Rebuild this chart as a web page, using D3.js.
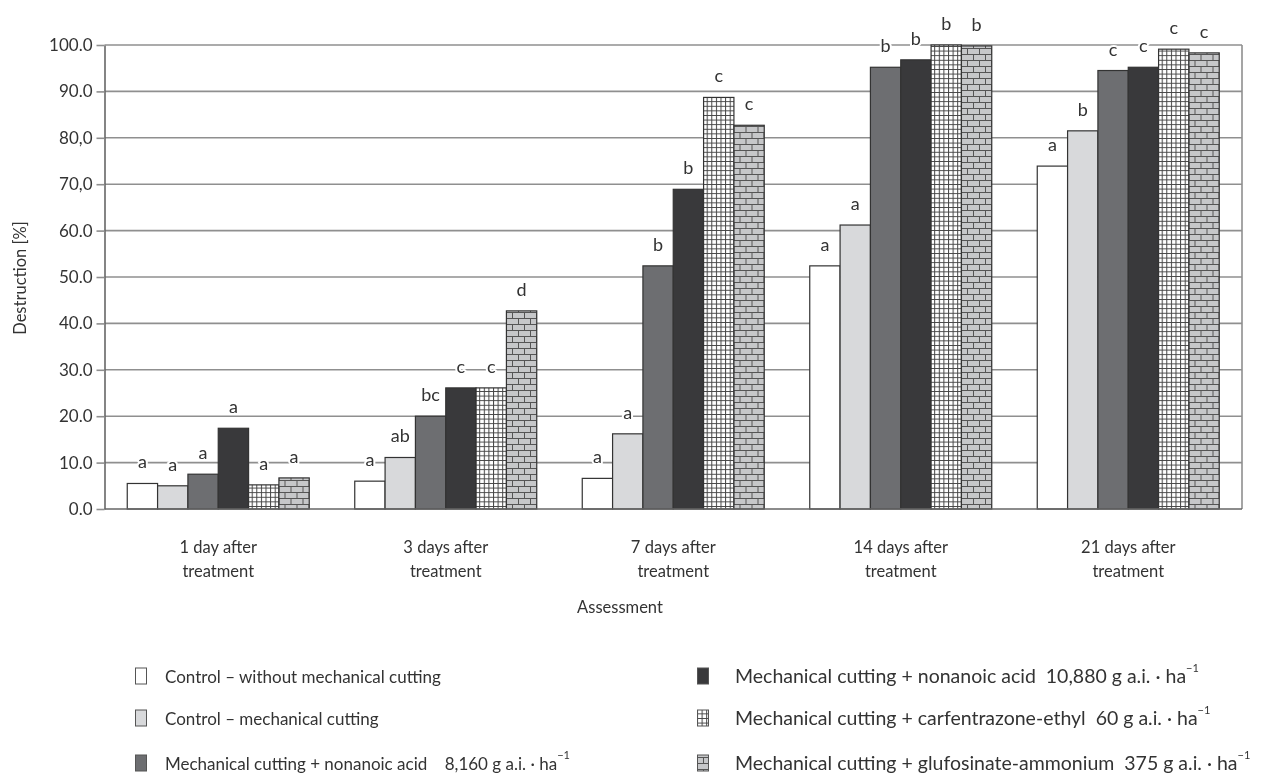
<!DOCTYPE html>
<html>
<head lang="en">
    <meta charset="UTF-8">
    <title>Destruction</title>
    <script src="https://cdn.jsdelivr.net/npm/d3@7/dist/d3.min.js"></script>
    <style>
        *{ margin:0; padding:0; }
        body{ background:#fff; }
        text{ font-family:Lato,"Open Sans",sans-serif; fill:#333; }
    </style>
</head>
<body>
<div id="mychart" style="width:1273px;height:784px;position:fixed;left:0;top:0"></div>
<script>
    // categories (assessment dates)
    var categories=[["1 day after","treatment"],["3 days after","treatment"],["7 days after","treatment"],["14 days after","treatment"],["21 days after","treatment"]];
    // treatments
    var series=["ctrl","cut","nona8","nona10","carf","gluf"];
    var legendLabels=["Control \u2013 without mechanical cutting","Control \u2013 mechanical cutting",
        "Mechanical cutting + nonanoic acid \u00a0\u00a0 8,160 g a.i. \u00b7 ha",
        "Mechanical cutting + nonanoic acid \u00a010,880 g a.i. \u00b7 ha",
        "Mechanical cutting + carfentrazone-ethyl \u00a060 g a.i. \u00b7 ha",
        "Mechanical cutting + glufosinate-ammonium \u00a0375 g a.i. \u00b7 ha"];
    var legendSup=["","","\u22121","\u22121","\u22121","\u22121"];
    // values per series, one per category
    var ctrl  =[5.5, 6.0, 6.6, 52.4, 73.9];
    var cut   =[5.0, 11.1, 16.2, 61.2, 81.5];
    var nona8 =[7.5, 20.0, 52.4, 95.2, 94.5];
    var nona10=[17.4, 26.1, 68.9, 96.8, 95.2];
    var carf  =[5.2, 26.1, 88.7, 100.0, 99.1];
    var gluf  =[6.7, 42.7, 82.7, 99.8, 98.3];
    // significance letters
    var letters=[["a","a","a","a","a","a"],["a","ab","bc","c","c","d"],["a","a","b","b","c","c"],["a","a","b","b","b","b"],["a","b","c","c","c","c"]];
    var yTicks=[0,10,20,30,40,50,60,70,80,90,100];
    var yTickLabels=["0.0","10.0","20.0","30.0","40.0","50.0","60.0","70,0","80,0","90.0","100.0"];

    var values=[ctrl,cut,nona8,nona10,carf,gluf];
    var fills=["#ffffff","#d8d9db","#6d6e71","#39393b","url(#grid)","url(#brick)"];

    drawBars("mychart");

    function drawBars(divname){
        var _left=104.5,_right=1242,_top=45,_bottom=509;
        var _fs="16.5px";
        var _svg=d3.select("#"+divname).append("svg")
                .attr("width",1273).attr("height",784);
        var defs=_svg.append("defs");
        //网格图案
        var pg=defs.append("pattern").attr("id","grid").attr("patternUnits","userSpaceOnUse")
                .attr("width",4.6).attr("height",4.6);
        pg.append("rect").attr("width",4.6).attr("height",4.6).attr("fill","#fff");
        pg.append("path").attr("d","M0,0.5H4.6M0.5,0V4.6").attr("stroke","#444").attr("stroke-width",1);
        //砖块图案
        var pb=defs.append("pattern").attr("id","brick").attr("patternUnits","userSpaceOnUse")
                .attr("width",12).attr("height",12);
        pb.append("rect").attr("width",12).attr("height",12).attr("fill","#c6c7c9");
        pb.append("path").attr("d","M0,0.5H12M0,6.5H12M0.5,0V6M6.5,6V12")
                .attr("stroke","#555").attr("stroke-width",1);

        var _yscale=d3.scaleLinear().domain([0,100]).range([_bottom,_top]);
        var _x0=d3.scaleBand().domain(d3.range(categories.length)).range([_left,_right]);
        var _x1=d3.scaleBand().domain(series).range([0,_x0.bandwidth()]).paddingOuter(0.75);

        //网格线
        _svg.append("g").selectAll("line").data(yTicks.slice(1)).enter().append("line")
                .attr("x1",_left).attr("x2",_right)
                .attr("y1",function(d){return _yscale(d);}).attr("y2",function(d){return _yscale(d);})
                .attr("stroke","#8f8f8f").attr("stroke-width",1.6);
        _svg.append("line").attr("x1",_right).attr("x2",_right).attr("y1",_top).attr("y2",_bottom)
                .attr("stroke","#8f8f8f").attr("stroke-width",1.6);

        //柱子
        var groups=_svg.append("g").selectAll("g").data(categories).enter().append("g")
                .attr("transform",function(d,i){return "translate("+_x0(i)+",0)";});
        function rows(d,i){
            return series.map(function(s,j){return {s:s,j:j,v:values[j][i],l:letters[i][j]};});
        }
        groups.selectAll("rect").data(rows).enter().append("rect")
                .attr("x",function(d){return _x1(d.s);})
                .attr("y",function(d){return _yscale(d.v);})
                .attr("width",_x1.bandwidth())
                .attr("height",function(d){return _bottom-_yscale(d.v);})
                .attr("fill",function(d){return fills[d.j];})
                .attr("stroke","#333").attr("stroke-width",1.2);
        groups.selectAll("text").data(rows).enter().append("text")
                .attr("x",function(d){return _x1(d.s)+_x1.bandwidth()/2;})
                .attr("y",function(d){return _yscale(d.v)-15;})
                .attr("text-anchor","middle")
                .style("font-size","18px")
                .style("paint-order","stroke").attr("stroke","#fff").attr("stroke-width",4)
                .text(function(d){return d.l;});

        //y轴
        var _yaxis=d3.axisLeft(_yscale).tickValues(yTicks).tickSize(8).tickSizeOuter(0).tickPadding(4)
                .tickFormat(function(d,i){return yTickLabels[i];});
        var gy=_svg.append("g").attr("transform","translate("+_left+",0)").call(_yaxis);
        gy.select(".domain").attr("stroke","#666").attr("stroke-width",1.6);
        gy.selectAll(".tick line").attr("stroke","#8f8f8f").attr("stroke-width",1.6);
        gy.selectAll("text").style("font-size","17px").style("font-family","Lato").attr("fill","#333");
        _svg.append("line").attr("x1",_left).attr("x2",_right).attr("y1",_bottom).attr("y2",_bottom)
                .attr("stroke","#666").attr("stroke-width",1.6);

        //x轴文字
        var xl=_svg.append("g").selectAll("text").data(categories).enter().append("text")
                .attr("text-anchor","middle").style("font-size",_fs)
                .attr("transform",function(d,i){return "translate("+(_x0(i)+_x0.bandwidth()/2)+",553)";});
        xl.append("tspan").attr("x",0).attr("y",0).text(function(d){return d[0];});
        xl.append("tspan").attr("x",0).attr("y",24).text(function(d){return d[1];});

        _svg.append("text").attr("x",620).attr("y",613).attr("text-anchor","middle")
                .style("font-size",_fs).text("Assessment");
        _svg.append("text").attr("transform","translate(26,278) rotate(-90)").attr("text-anchor","middle")
                .style("font-size",_fs).text("Destruction [%]");

        //图例
        var lg=_svg.append("g").selectAll("g").data(legendLabels).enter().append("g")
                .attr("transform",function(d,i){
                    var col=Math.floor(i/3),row=i%3;
                    return "translate("+(col==0?135:697)+","+[676,718,763][row]+")";
                });
        lg.append("rect").attr("x",0.5).attr("y",-8).attr("width",11).attr("height",16)
                .attr("fill",function(d,i){return fills[i];})
                .attr("stroke","#555").attr("stroke-width",1);
        var lt=lg.append("text").attr("x",function(d,i){return i<3?30:38;}).attr("y",7)
                .style("font-size",function(d,i){return i<3?"17px":"19.5px";});
        lt.append("tspan").text(function(d){return d;});
        lt.append("tspan").attr("dy",-11).style("font-size","11px").text(function(d,i){return legendSup[i];});
    }
</script>
</body>
</html>
